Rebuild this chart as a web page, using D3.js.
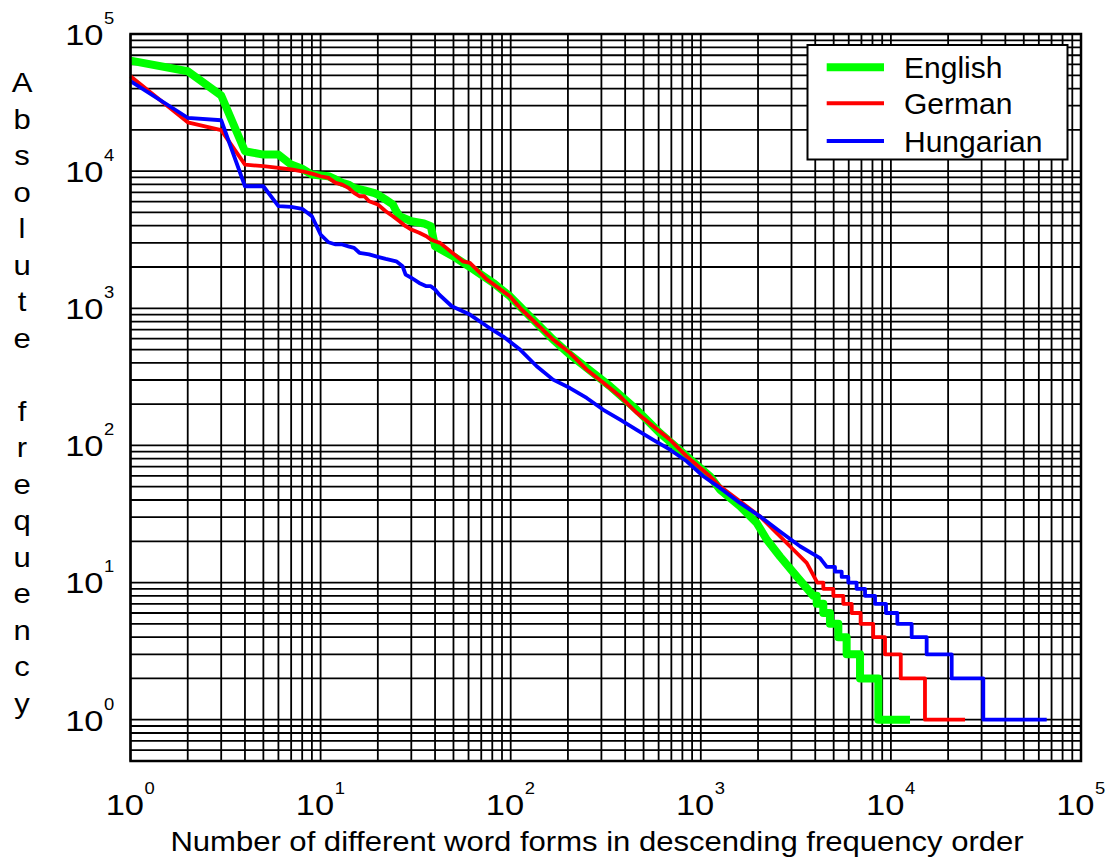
<!DOCTYPE html>
<html>
<head>
<meta charset="utf-8">
<script src="https://cdn.jsdelivr.net/npm/d3@7"></script>
<style>
  body { margin: 0; background: #fff; }
  text { font-family: Arial, "Liberation Sans", Helvetica, sans-serif; fill: #000; }
</style>
</head>
<body>
<svg id="chart" width="1111" height="863"></svg>
<script>
'use strict';

// [rank, absolute frequency], upper part of each curve
var englishHead = [
  [1, 64000], [2, 53500], [3, 35600], [4, 13960], [5, 13200], [6, 13200], [7, 11170],
  [8, 10400], [9, 9440], [10, 9290], [11, 9180], [12, 8690], [13, 8220], [14, 7980],
  [15, 7550], [17, 7250], [19, 6950], [20, 6750], [22, 6200], [24, 5710], [25, 5100],
  [26, 4690], [30, 4310], [35, 4150], [38, 3970], [40, 2830], [50, 2390], [64, 1915],
  [81, 1530], [99, 1225], [126, 875], [167, 592], [205, 459], [251, 367], [333, 270],
  [460, 182], [610, 123], [843, 83.2], [1117, 59.6], [1262, 47.6], [1607, 36], [1968, 27.2],
  [2222, 20.6], [2610, 15.5], [3194, 11.1], [3906, 8]
];
// tail: first rank of each frequency plateau, last entry is the final rank
var englishTail = [
  [3906, 8], [4070, 7], [4410, 6], [4780, 5], [5290, 4], [5850, 3], [6880, 2],
  [8590, 1], [12600, 1]
];

var germanHead = [
  [1, 49200], [2, 22700], [3, 19900], [4, 11170], [5, 10860], [6, 10570], [7, 10280],
  [8, 9980], [9, 9600], [10, 9180], [11, 8930], [12, 8220], [13, 7980], [14, 7550],
  [15, 6950], [16, 6560], [17, 6560], [18, 6030], [20, 5710], [22, 5100], [24, 4690],
  [26, 4310], [28, 3970], [30, 3750], [33, 3550], [36, 3350], [38, 3170], [40, 3080],
  [42.5, 3000], [56, 2200], [61, 2140], [75, 1620], [99, 1225], [112, 1007], [167, 592],
  [205, 473], [251, 357], [307, 286], [376, 228], [460, 173], [562, 138], [689, 110],
  [843, 83.2], [1117, 59.6], [1262, 50.3], [1607, 39.1], [2047, 30.4], [2407, 24.3],
  [2943, 18.4], [3606, 13.9], [4100, 10]
];
var germanTail = [
  [4100, 10], [4410, 9], [4980, 8], [5620, 7], [6220, 6], [6930, 5], [8070, 4],
  [9310, 3], [11270, 2], [15110, 1], [24550, 1]
];

var hungarianHead = [
  [1, 45300], [2, 24500], [3, 23500], [4, 7760], [5, 7760], [6, 5550], [7, 5480],
  [8, 5310], [9, 4690], [10, 3450], [11, 3030], [12, 2920], [13, 2920], [14, 2830],
  [15, 2760], [16, 2540], [18, 2470], [20, 2370], [22, 2290], [25, 2200], [27, 2025],
  [28, 1760], [30, 1670], [33, 1530], [36, 1450], [38, 1450], [40, 1370], [42, 1260],
  [49, 1035], [61, 900], [75, 739], [91, 625], [112, 500], [137, 378], [167, 302],
  [205, 262], [251, 222], [307, 182], [376, 154], [460, 130], [562, 110], [689, 93.1],
  [843, 76.6], [1031, 59.6], [1262, 49], [1607, 38.1], [2047, 30.4], [2610, 23.6],
  [3325, 18.4], [4240, 15.1], [4600, 13]
];
var hungarianTail = [
  [4600, 13], [5080, 12], [5510, 11], [5970, 10], [6600, 9], [7310, 8], [8250, 7],
  [9420, 6], [10810, 5], [12860, 4], [15420, 3], [20880, 2], [30620, 1], [66000, 1]
];

var xTickExponents = [0, 1, 2, 3, 4, 5];
var yTickExponents = [0, 1, 2, 3, 4, 5];
var legendLabels = ['English', 'German', 'Hungarian'];
var yTitle = 'Absolute frequency';
var xTitle = 'Number of different word forms in descending frequency order';

var series = [
  { name: legendLabels[0], head: englishHead, tail: englishTail, color: '#00ff00', width: 8 },
  { name: legendLabels[1], head: germanHead, tail: germanTail, color: '#ff0000', width: 3.8 },
  { name: legendLabels[2], head: hungarianHead, tail: hungarianTail, color: '#0000ff', width: 3.8 }
];

var plot = { left: 130.5, right: 1081, top: 34, bottom: 761 };
var stretch = 1.15; // axis lettering in the figure is drawn wide

var svg = d3.select('#chart');

var x = d3.scaleLog().domain([1, 1e5]).range([plot.left, plot.right]);
var y = d3.scaleLog().domain([0.5, 1e5]).range([plot.bottom, plot.top]);

// full log grid, every 1..9 multiple
var grid = svg.append('g').attr('class', 'grid')
  .attr('stroke', '#000').attr('stroke-width', 1.8);

grid.selectAll('line.gx').data(x.ticks()).enter().append('line')
  .attr('class', 'gx')
  .attr('x1', function(d) { return x(d); }).attr('x2', function(d) { return x(d); })
  .attr('y1', plot.top).attr('y2', plot.bottom);

grid.selectAll('line.gy').data(y.ticks()).enter().append('line')
  .attr('class', 'gy')
  .attr('y1', function(d) { return y(d); }).attr('y2', function(d) { return y(d); })
  .attr('x1', plot.left).attr('x2', plot.right);

// curves: straight segments on the head, plateaus on the tail
var headLine = d3.line()
  .x(function(d) { return x(d[0]); })
  .y(function(d) { return y(d[1]); });
var tailLine = d3.line()
  .curve(d3.curveStepAfter)
  .x(function(d) { return x(d[0]); })
  .y(function(d) { return y(d[1]); });

svg.append('g').attr('class', 'curves')
  .selectAll('path').data(series).enter().append('path')
  .attr('d', function(s) { return headLine(s.head) + tailLine(s.tail).replace(/^M/, 'L'); })
  .attr('fill', 'none')
  .attr('stroke', function(s) { return s.color; })
  .attr('stroke-width', function(s) { return s.width; })
  .attr('stroke-linejoin', 'round');

svg.append('rect')
  .attr('x', plot.left).attr('y', plot.top)
  .attr('width', plot.right - plot.left).attr('height', plot.bottom - plot.top)
  .attr('fill', 'none').attr('stroke', '#000').attr('stroke-width', 2.5);

// power-of-ten labels
var powerLabel = function(parent, px, py, exponent) {
  var g = parent.append('g')
    .attr('transform', 'translate(' + px + ',' + py + ') scale(' + stretch + ',1)');
  g.append('text').attr('text-anchor', 'end').attr('font-size', 30).text('10');
  g.append('text').attr('x', 0.5).attr('y', -21).attr('font-size', 16).text(exponent);
};

var xLabels = svg.append('g').attr('class', 'x-labels');
xTickExponents.forEach(function(e) {
  powerLabel(xLabels, x(Math.pow(10, e)) + 13.5, 814.5, e);
});

var yLabels = svg.append('g').attr('class', 'y-labels');
yTickExponents.forEach(function(e) {
  powerLabel(yLabels, 103.5, y(Math.pow(10, e)) + 10.8, e);
});

svg.append('text')
  .attr('transform', 'translate(597,850.5) scale(' + stretch + ',1)')
  .attr('text-anchor', 'middle').attr('font-size', 27)
  .text(xTitle);

// vertical title, one letter per row
svg.append('g').attr('class', 'y-title')
  .selectAll('text').data(yTitle.split('')).enter().append('text')
  .attr('transform', function(c, i) {
    return 'translate(22,' + (92 + i * 36.5) + ') scale(' + stretch + ',1)';
  })
  .attr('text-anchor', 'middle').attr('font-size', 27)
  .text(function(c) { return c; });

// legend
var legend = svg.append('g').attr('class', 'legend');
legend.append('rect')
  .attr('x', 807.5).attr('y', 45).attr('width', 260).attr('height', 114.5)
  .attr('fill', '#fff').attr('stroke', '#000').attr('stroke-width', 2);

var legendRows = [67.3, 103.3, 141];
series.forEach(function(s, i) {
  legend.append('line')
    .attr('x1', 826.7).attr('x2', 884)
    .attr('y1', legendRows[i]).attr('y2', legendRows[i])
    .attr('stroke', s.color).attr('stroke-width', i === 0 ? 8 : 4);
  legend.append('text')
    .attr('x', 904).attr('y', legendRows[i] + 11)
    .attr('font-size', 30)
    .text(s.name);
});
</script>
</body>
</html>
